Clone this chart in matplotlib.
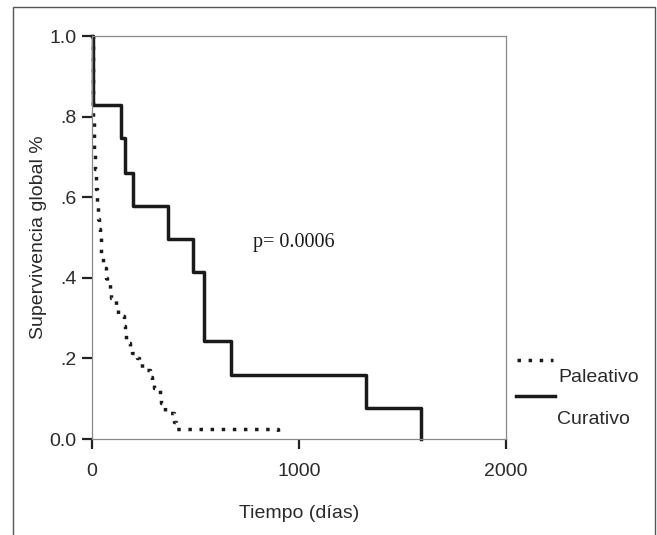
import matplotlib
matplotlib.use("Agg")
import matplotlib.pyplot as plt
from matplotlib.lines import Line2D
from matplotlib.patches import Rectangle

plt.rcParams['font.family'] = ['Liberation Sans', 'DejaVu Sans']

# Kaplan-Meier steps (time in days, survival after the step)
curativo_t = [0, 5, 140, 160, 199, 368, 489, 541, 670, 1323, 1592]
curativo_s = [1.0, 0.83, 0.748, 0.661, 0.578, 0.496, 0.415, 0.243, 0.16, 0.076, 0.0]

paleativo_t = [0, 3, 5, 7, 10, 12, 15, 18, 22, 28, 33, 40, 46, 54, 68, 74, 87, 92,
               118, 124, 155, 160, 163, 182, 194, 218, 226, 242, 254, 282, 288, 298,
               330, 334, 342, 355, 370, 395, 405, 898, 905]
paleativo_s = [1.0, 0.93, 0.86, 0.80, 0.76, 0.72, 0.67, 0.62, 0.575, 0.545, 0.52, 0.50,
               0.46, 0.425, 0.40, 0.385, 0.365, 0.35, 0.33, 0.305, 0.28, 0.26, 0.238,
               0.22, 0.214, 0.20, 0.194, 0.177, 0.172, 0.155, 0.134, 0.126, 0.107, 0.09,
               0.084, 0.066, 0.064, 0.043, 0.024, 0.018, 0.018]

yticks = [0.0, 0.2, 0.4, 0.6, 0.8, 1.0]
ylabels = ["0.0", ".2", ".4", ".6", ".8", "1.0"]
xticks = [0, 1000, 2000]

txt = "#2a2a2a"
dots = (0, (1, 2.2))
fig = plt.figure(figsize=(6.57, 5.35), dpi=100)
ax = fig.add_axes([0.140, 0.1794, 0.630, 0.7533])

ax.plot(paleativo_t, paleativo_s, drawstyle='steps-post', color='#1a1a1a', lw=2.5,
        linestyle=dots, dash_capstyle='butt', clip_on=False)
ax.plot(curativo_t, curativo_s, drawstyle='steps-post', color='#1a1a1a', lw=2.5,
        clip_on=False)

ax.set_xlim(0, 2000)
ax.set_ylim(0, 1.0)
ax.set_xticks(xticks)
ax.set_xticklabels([str(v) for v in xticks])
ax.set_yticks(yticks)
ax.set_yticklabels(ylabels)
ax.tick_params(axis='both', direction='out', width=1.6, color='#222222',
               labelsize=14, labelcolor=txt)
ax.tick_params(axis='x', length=7, pad=10)
ax.tick_params(axis='y', length=7, pad=4)
for s in ax.spines.values():
    s.set_color('#888888')
    s.set_linewidth(0.9)

ax.set_xlabel("Tiempo (días)", fontsize=14, color=txt, labelpad=18)
ax.set_ylabel("Supervivencia global %", fontsize=14, color=txt, labelpad=2)

ax.text(778, 0.487, "p= 0.0006", fontsize=14.5, family='Liberation Serif',
        color='#1a1a1a', ha='left', va='center')

# legend drawn by hand, as in the original layout
W, H = 657.0, 535.0
def fx(px):
    return px / W
def fy(py):
    return 1 - py / H

fig.add_artist(Line2D([fx(517), fx(553)], [fy(360), fy(360)], color='#1a1a1a', lw=2.5,
                      linestyle=dots, dash_capstyle='butt'))
fig.text(fx(558), fy(378), "Paleativo", fontsize=14, color=txt, va='center', ha='left')
fig.add_artist(Line2D([fx(516), fx(555)], [fy(396), fy(396)], color='#1a1a1a', lw=2.5))
fig.text(fx(557), fy(419), "Curativo", fontsize=14, color=txt, va='center', ha='left')

# outer frame around the figure
fig.add_artist(Rectangle((fx(13), fy(545)), fx(655) - fx(13), fy(7) - fy(545),
                         fill=False, edgecolor='#555555', lw=1.0))

fig.savefig("out.png", dpi=100)
